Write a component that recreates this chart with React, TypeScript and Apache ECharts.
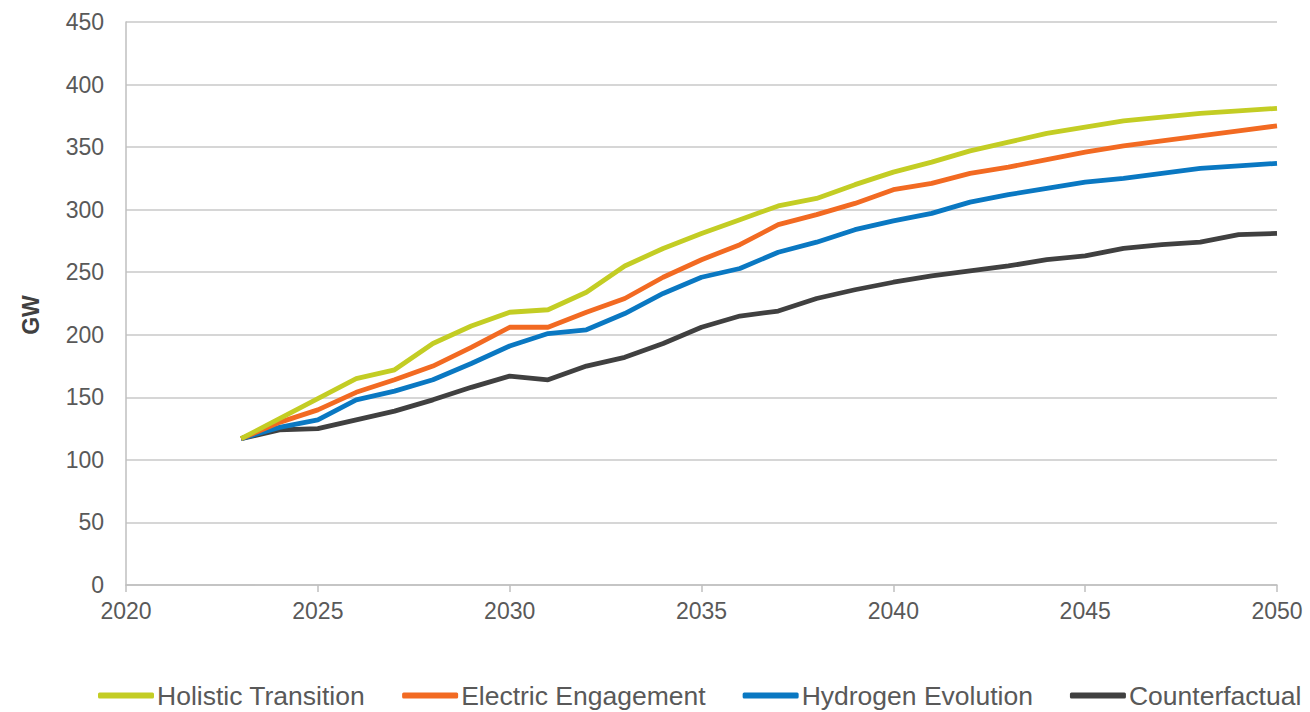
import React, { useEffect, useRef } from "react";
import * as echarts from "echarts";

const years = [2023, 2024, 2025, 2026, 2027, 2028, 2029, 2030, 2031, 2032, 2033, 2034, 2035, 2036, 2037, 2038, 2039, 2040, 2041, 2042, 2043, 2044, 2045, 2046, 2047, 2048, 2049, 2050];
const holistic = [117, 133, 149, 165, 172, 193, 207, 218, 220, 234, 255, 269, 281, 292, 303, 309, 320, 330, 338, 347, 354, 361, 366, 371, 374, 377, 379, 381];
const electric = [117, 130, 140, 154, 164, 175, 190, 206, 206, 218, 229, 246, 260, 272, 288, 296, 305, 316, 321, 329, 334, 340, 346, 351, 355, 359, 363, 367];
const hydrogen = [117, 126, 132, 148, 155, 164, 177, 191, 201, 204, 217, 233, 246, 253, 266, 274, 284, 291, 297, 306, 312, 317, 322, 325, 329, 333, 335, 337];
const counterfactual = [117, 124, 125, 132, 139, 148, 158, 167, 164, 175, 182, 193, 206, 215, 219, 229, 236, 242, 247, 251, 255, 260, 263, 269, 272, 274, 280, 281];

const seriesNames = ["Holistic Transition", "Electric Engagement", "Hydrogen Evolution", "Counterfactual"];
const seriesColors = ["#C3CD24", "#F26A22", "#0A78C2", "#404040"];
const seriesValues = [holistic, electric, hydrogen, counterfactual];

export default function App() {
  const ref = useRef<HTMLDivElement>(null);
  useEffect(() => {
    if (!ref.current) return;
    const chart = echarts.init(ref.current, null, { renderer: "svg" });
    const font = "Liberation Sans, Arial, sans-serif";
    chart.setOption({
      animation: false,
      backgroundColor: "#ffffff",
      grid: { left: 126, right: 33, top: 22, bottom: 127, containLabel: false },
      xAxis: {
        type: "value",
        min: 2020,
        max: 2050,
        interval: 5,
        axisLine: { show: true, lineStyle: { color: "#BFBFBF", width: 1.5 } },
        axisTick: { show: true, length: 7, lineStyle: { color: "#BFBFBF", width: 1.5 } },
        splitLine: { show: false },
        axisLabel: { color: "#595959", fontSize: 23, fontFamily: font, margin: 14, formatter: (v: number) => String(v) },
      },
      yAxis: {
        type: "value",
        min: 0,
        max: 450,
        interval: 50,
        axisLine: { show: true, lineStyle: { color: "#BFBFBF", width: 1.5 } },
        axisTick: { show: false },
        splitLine: { show: true, lineStyle: { color: "#C8C8C8", width: 1.5 } },
        axisLabel: { color: "#595959", fontSize: 23, fontFamily: font, margin: 22 },
      },
      legend: {
        left: 98,
        top: 682,
        padding: 0,
        icon: "roundRect",
        itemWidth: 56,
        itemHeight: 6,
        itemGap: 37,
        textStyle: { color: "#595959", fontSize: 26.5, lineHeight: 26, fontFamily: font, padding: [0, 0, 0, -2] },
        data: seriesNames,
      },
      graphic: [
        {
          type: "text",
          x: 31,
          y: 315,
          rotation: Math.PI / 2,
          style: {
            text: "GW",
            fill: "#404040",
            font: "bold 23px Liberation Sans, Arial, sans-serif",
            textAlign: "center",
            textVerticalAlign: "middle",
          },
        },
      ],
      series: seriesNames.map((name, i) => ({
        name,
        type: "line",
        data: years.map((y, j) => [y, seriesValues[i][j]]),
        showSymbol: false,
        symbol: "none",
        lineStyle: { color: seriesColors[i], width: 4.8 },
        itemStyle: { color: seriesColors[i] },
        z: 10 - i,
      })),
    });
    return () => chart.dispose();
  }, []);
  return <div ref={ref} style={{ position: "absolute", left: 0, top: 0, width: 1310, height: 712 }} />;
}
